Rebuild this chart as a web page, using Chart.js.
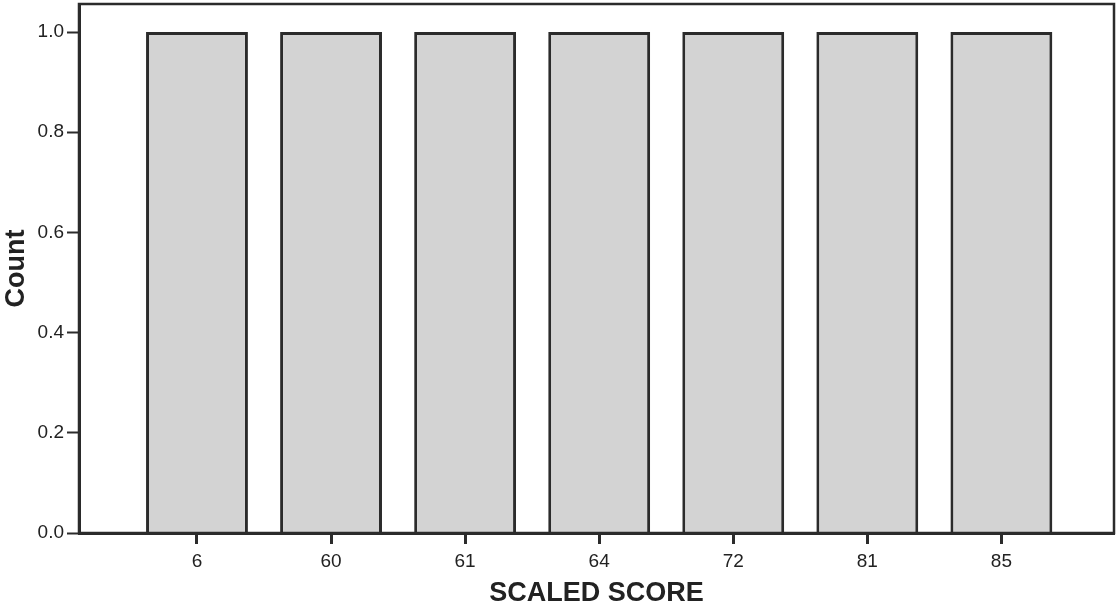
<!DOCTYPE html>
<html>
<head>
<meta charset="utf-8">
<script src="https://cdn.jsdelivr.net/npm/chart.js@4"></script>
<style>
  body { margin: 0; background: #fff; }
</style>
</head>
<body>
<canvas id="myChart" width="1120" height="610"></canvas>
<script>
// Scaled scores (categories) and how many times each occurs
const scores = ["6", "60", "61", "64", "72", "81", "85"];
const counts = [1, 1, 1, 1, 1, 1, 1];
const yTicks = [0, 0.2, 0.4, 0.6, 0.8, 1.0];

const ink = "#2b2b2b";

// box round the plot area (top and right edges)
const framePlugin = {
  id: "frame",
  afterDraw(chart) {
    const a = chart.chartArea;
    const c = chart.ctx;
    c.save();
    c.strokeStyle = ink;
    c.lineWidth = 2.5;
    c.strokeRect(a.left, a.top, a.right - a.left, a.bottom - a.top);
    c.restore();
  }
};

const ctx = document.getElementById("myChart").getContext("2d");

new Chart(ctx, {
  type: "bar",
  data: {
    datasets: [{
      label: "Count",
      data: counts.map((v, i) => ({ x: i, y: v })),
      backgroundColor: "#d3d3d3",
      borderColor: ink,
      borderWidth: 3,
      categoryPercentage: 1,
      barPercentage: 0.76
    }]
  },
  options: {
    responsive: false,
    animation: false,
    layout: { padding: { top: 4, right: 6, left: 0, bottom: 0 } },
    plugins: {
      legend: { display: false },
      tooltip: { enabled: false }
    },
    scales: {
      x: {
        type: "linear",
        offset: false,
        min: -0.88,
        max: 6.84,
        afterBuildTicks: s => { s.ticks = scores.map((_, i) => ({ value: i })); },
        afterFit: s => { s.height = 77; s.paddingLeft = 0; s.paddingRight = 0; },
        ticks: {
          callback: v => scores[v],
          color: "#222",
          font: { family: "Liberation Sans", size: 19 },
          padding: 6,
          maxRotation: 0
        },
        grid: { offset: false, drawOnChartArea: false, drawTicks: true, tickLength: 11, tickWidth: 3, color: ink },
        border: { color: ink, width: 3 },
        title: {
          display: true,
          text: "SCALED SCORE",
          color: "#222",
          font: { family: "Liberation Sans", size: 27, weight: "bold" },
          padding: { top: 0, bottom: 0 }
        }
      },
      y: {
        min: 0,
        max: 1.056,
        afterBuildTicks: s => { s.ticks = yTicks.map(v => ({ value: v })); },
        afterFit: s => { s.width = 79; s.paddingTop = 0; s.paddingBottom = 0; },
        ticks: {
          callback: v => v.toFixed(1),
          color: "#222",
          font: { family: "Liberation Sans", size: 19 },
          padding: 3
        },
        grid: { drawOnChartArea: false, drawTicks: true, tickLength: 12, tickWidth: 2, color: ink },
        border: { color: ink, width: 3 },
        title: {
          display: true,
          text: "Count",
          color: "#222",
          font: { family: "Liberation Sans", size: 27, weight: "bold" },
          padding: { top: 0, bottom: 0 }
        }
      }
    }
  },
  plugins: [framePlugin]
});
</script>
</body>
</html>
